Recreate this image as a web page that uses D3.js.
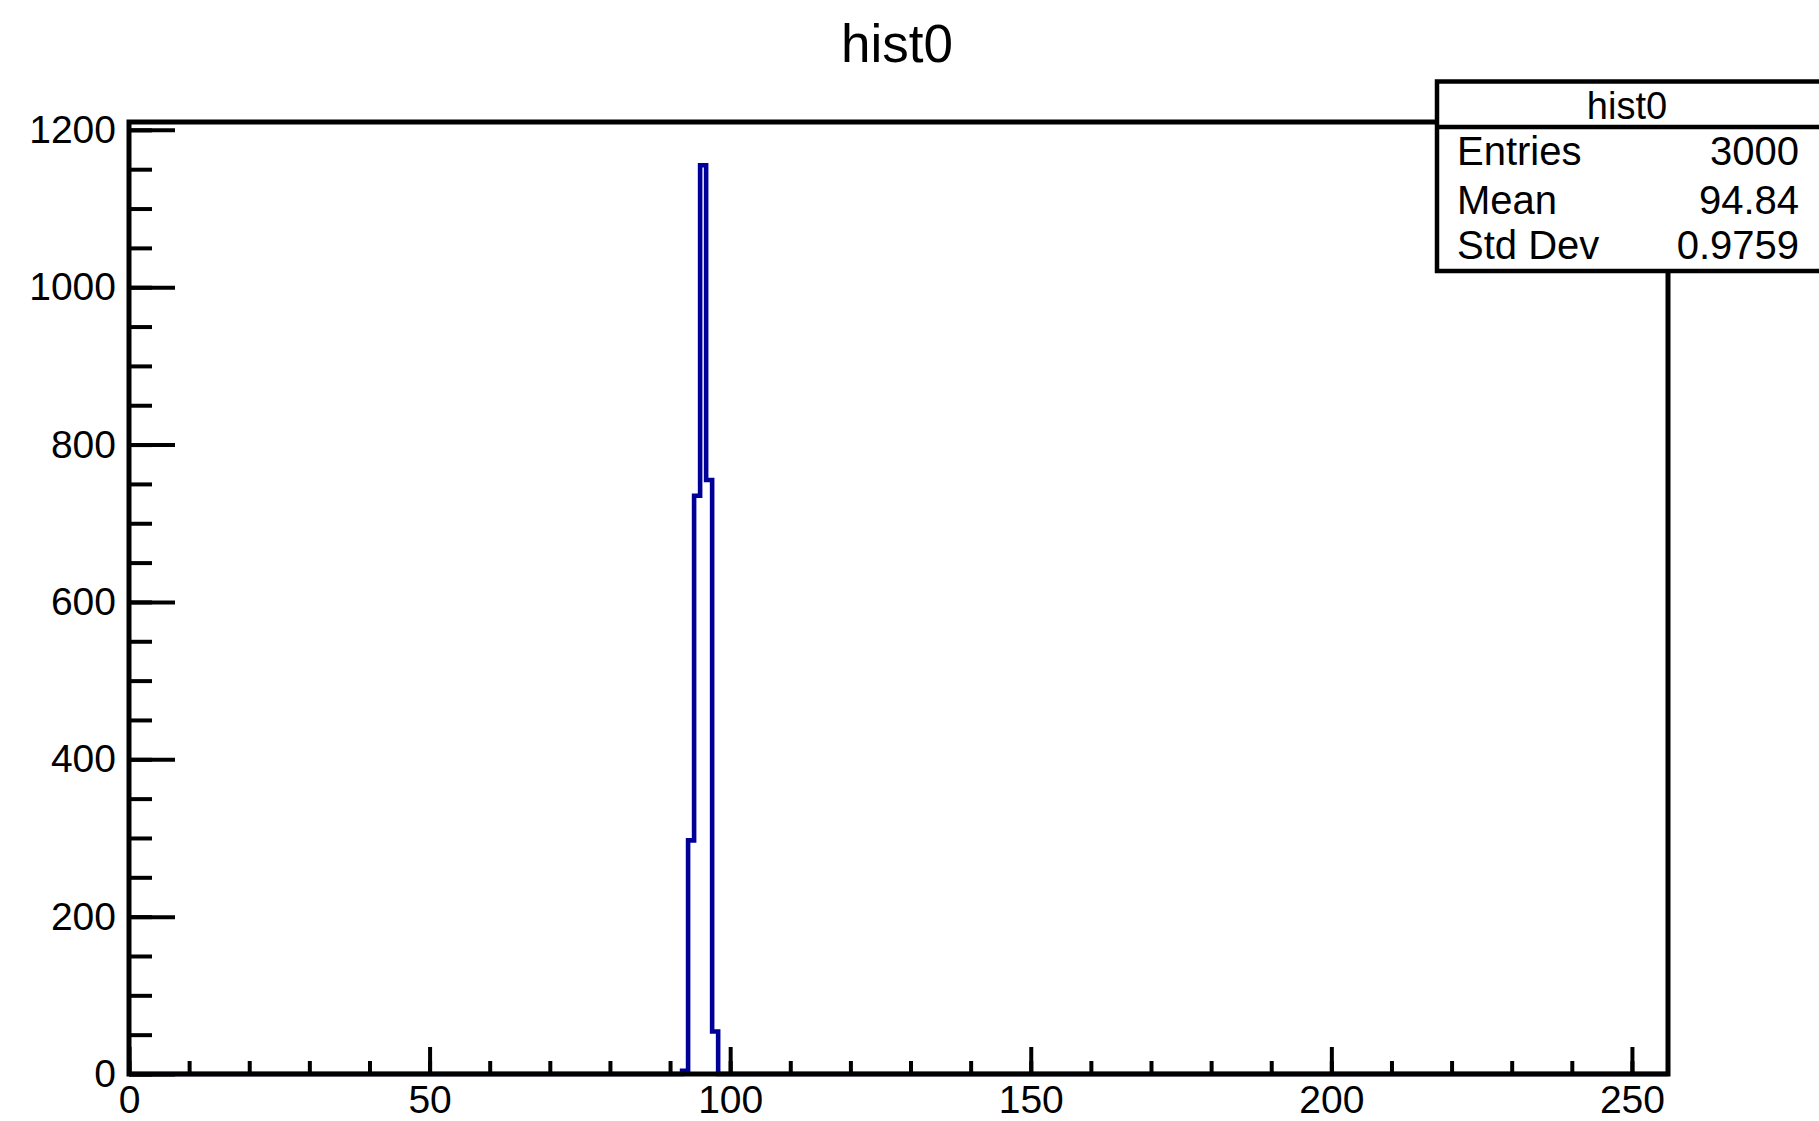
<!DOCTYPE html>
<html>
<head>
<meta charset="utf-8">
<script src="https://cdn.jsdelivr.net/npm/d3@7"></script>
<style>
  html, body { margin: 0; padding: 0; background: #fff; }
  svg { display: block; }
  text { font-family: "Liberation Sans", Arial, Helvetica, sans-serif; fill: #000; }
</style>
</head>
<body>
<script>
// Histogram definition: 256 unit-width bins on [0, 256)
const histTitle = "hist0";
const nBins = 256;
const xRange = [0, 256];
// Non-empty bins (low edge) and their counts
const binLowEdges = [92, 93, 94, 95, 96, 97];
const binCounts = [4, 297, 735, 1155, 755, 54];
// Statistics box rows
const statLabels = ["Entries", "Mean", "Std Dev"];
const statValues = ["3000", "94.84", "0.9759"];
// Axis ticks
const xMajorTicks = [0, 50, 100, 150, 200, 250];
const xMinorTicks = d3.range(0, 257, 10);
const yMajorTicks = [0, 200, 400, 600, 800, 1000, 1200];
const yMinorTicks = d3.range(0, 1201, 50);
const yMax = 1210;

const W = 1819, H = 1121;
const frame = { left: 129, right: 1668, top: 122, bottom: 1074 };

const svg = d3.select("body").append("svg")
  .attr("width", W).attr("height", H);

const x = d3.scaleLinear().domain(xRange).range([frame.left, frame.right]);
const y = d3.scaleLinear().domain([0, yMax]).range([frame.bottom, frame.top]);

// Full bin contents, empty bins are zero
const contents = new Array(nBins).fill(0);
binLowEdges.forEach((lo, i) => { contents[lo - xRange[0]] = binCounts[i]; });
const steps = contents.map((c, i) => ({ lo: xRange[0] + i, c }));
steps.push({ lo: xRange[1], c: contents[nBins - 1] });

// Histogram outline
const line = d3.line()
  .x(d => x(d.lo))
  .y(d => y(d.c))
  .curve(d3.curveStepAfter);

svg.append("path")
  .datum(steps)
  .attr("d", line)
  .attr("fill", "none")
  .attr("stroke", "#000099")
  .attr("stroke-width", 4.6)
  .attr("stroke-linejoin", "miter");

// Axis ticks (drawn inward)
function styleAxis(g) {
  g.select(".domain").remove();
  g.selectAll(".tick line").attr("stroke", "#000").attr("stroke-width", 4);
  g.selectAll(".tick text").style("font-size", "39px")
    .style("font-family", '"Liberation Sans", Arial, Helvetica, sans-serif')
    .attr("fill", "#000");
}

svg.append("g")
  .attr("transform", `translate(0,${frame.bottom})`)
  .call(d3.axisBottom(x).tickValues(xMinorTicks).tickSizeInner(-13).tickSizeOuter(0).tickFormat(""))
  .call(styleAxis);

svg.append("g")
  .attr("transform", `translate(0,${frame.bottom})`)
  .call(d3.axisBottom(x).tickValues(xMajorTicks).tickSizeInner(-27).tickSizeOuter(0)
    .tickPadding(11).tickFormat(d3.format("d")))
  .call(styleAxis);

svg.append("g")
  .attr("transform", `translate(${frame.left},0)`)
  .call(d3.axisLeft(y).tickValues(yMinorTicks).tickSizeInner(-23).tickSizeOuter(0).tickFormat(""))
  .call(styleAxis);

svg.append("g")
  .attr("transform", `translate(${frame.left},0)`)
  .call(d3.axisLeft(y).tickValues(yMajorTicks).tickSizeInner(-46).tickSizeOuter(0)
    .tickPadding(13).tickFormat(d3.format("d")))
  .call(styleAxis);

// Frame
svg.append("rect")
  .attr("x", frame.left).attr("y", frame.top)
  .attr("width", frame.right - frame.left)
  .attr("height", frame.bottom - frame.top)
  .attr("fill", "none")
  .attr("stroke", "#000")
  .attr("stroke-width", 5);

// Title
svg.append("text")
  .attr("x", 897).attr("y", 62)
  .attr("text-anchor", "middle")
  .style("font-size", "53px")
  .text(histTitle);

// Statistics box
const box = { left: 1437, top: 81.5, right: 1840, header: 127, bottom: 271 };
const sb = svg.append("g");
sb.append("rect")
  .attr("x", box.left).attr("y", box.top)
  .attr("width", box.right - box.left).attr("height", box.bottom - box.top)
  .attr("fill", "#fff").attr("stroke", "#000").attr("stroke-width", 4.5);
sb.append("line")
  .attr("x1", box.left).attr("x2", box.right)
  .attr("y1", box.header).attr("y2", box.header)
  .attr("stroke", "#000").attr("stroke-width", 4.5);
sb.append("text")
  .attr("x", 1627).attr("y", 119)
  .attr("text-anchor", "middle")
  .style("font-size", "38px")
  .text(histTitle);

const rowBase = [165, 214, 259];
statLabels.forEach((lab, i) => {
  sb.append("text")
    .attr("x", 1457).attr("y", rowBase[i])
    .style("font-size", "40px")
    .text(lab);
  sb.append("text")
    .attr("x", 1799).attr("y", rowBase[i])
    .attr("text-anchor", "end")
    .style("font-size", "40px")
    .text(statValues[i]);
});
</script>
</body>
</html>
